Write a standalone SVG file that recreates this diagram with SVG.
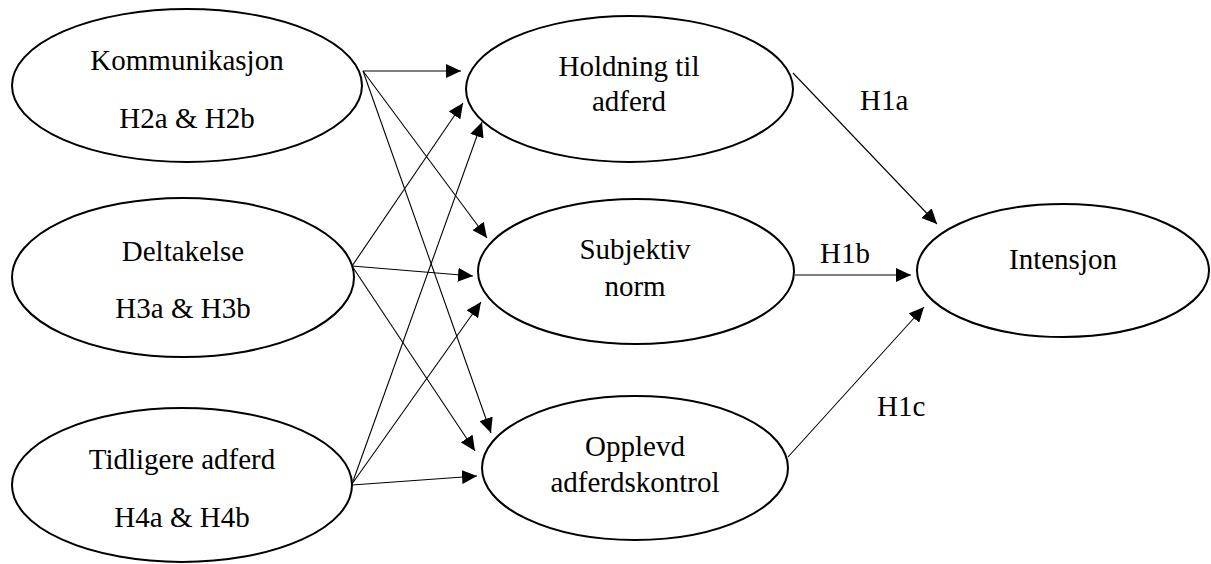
<svg xmlns="http://www.w3.org/2000/svg" width="1211" height="564" viewBox="0 0 1211 564">
<style>
.node ellipse{fill:#fff;stroke:#000;stroke-width:2}
text{font-family:"Liberation Serif","Times New Roman",serif;font-size:29px;fill:#000}
.c{text-anchor:middle}
#connectors line{stroke:#000;stroke-width:1.1;marker-end:url(#ah)}
</style>
<defs>
<marker id="ah" markerWidth="15" markerHeight="14" refX="15" refY="7" orient="auto" markerUnits="userSpaceOnUse">
<path d="M0,0 L15,7 L0,14 Z" fill="#000"/>
</marker>
</defs>
<rect width="1211" height="564" fill="#fff"/>
<g id="connectors">
<line x1="363" y1="71" x2="461" y2="71"/>
<line x1="363" y1="71" x2="487" y2="238"/>
<line x1="363" y1="71" x2="491" y2="433"/>
<line x1="352" y1="266" x2="463" y2="103"/>
<line x1="352" y1="266" x2="473" y2="276"/>
<line x1="352" y1="266" x2="475" y2="451"/>
<line x1="352" y1="484" x2="482" y2="122"/>
<line x1="352" y1="484" x2="481" y2="302"/>
<line x1="352" y1="485" x2="477" y2="476"/>
<line x1="793" y1="73" x2="937" y2="224"/>
<line x1="795" y1="275" x2="911" y2="275"/>
<line x1="788" y1="457" x2="924" y2="307"/>
</g>
<g id="n-kommunikasjon" class="node">
<ellipse cx="187" cy="85.5" rx="175" ry="76.5"/>
<text class="c" x="187" y="70">Kommunikasjon</text>
<text class="c" x="187" y="128">H2a &amp; H2b</text>
</g>
<g id="n-deltakelse" class="node">
<ellipse cx="183" cy="277.5" rx="171" ry="79.5"/>
<text class="c" x="183" y="261">Deltakelse</text>
<text class="c" x="183" y="318">H3a &amp; H3b</text>
</g>
<g id="n-tidligere" class="node">
<ellipse cx="182" cy="485" rx="170" ry="77"/>
<text class="c" x="182" y="469">Tidligere adferd</text>
<text class="c" x="182" y="527">H4a &amp; H4b</text>
</g>
<g id="n-holdning" class="node">
<ellipse cx="629.5" cy="89" rx="163.5" ry="73"/>
<text class="c" x="629" y="76">Holdning til</text>
<text class="c" x="629" y="111">adferd</text>
</g>
<g id="n-subjektiv" class="node">
<ellipse cx="636" cy="271.5" rx="158" ry="72.5"/>
<text class="c" x="635" y="259">Subjektiv</text>
<text class="c" x="635" y="296">norm</text>
</g>
<g id="n-opplevd" class="node">
<ellipse cx="635" cy="468" rx="153" ry="72"/>
<text class="c" x="635" y="456">Opplevd</text>
<text class="c" x="635" y="492">adferdskontrol</text>
</g>
<g id="n-intensjon" class="node">
<ellipse cx="1063" cy="270.5" rx="146" ry="66.5"/>
<text class="c" x="1063" y="269">Intensjon</text>
</g>
<g id="labels">
<text x="860" y="110">H1a</text>
<text x="820" y="263">H1b</text>
<text x="877" y="416">H1c</text>
</g>
</svg>
